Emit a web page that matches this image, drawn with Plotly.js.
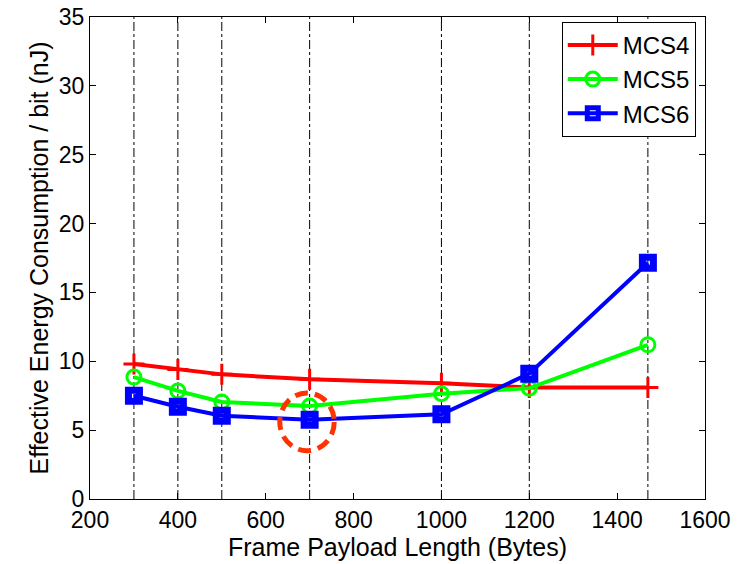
<!DOCTYPE html>
<html>
<head>
<meta charset="utf-8">
<script src="https://cdn.plot.ly/plotly-3.0.1.min.js"></script>
<style>html,body{margin:0;padding:0;background:#fff;}#chart{width:748px;height:564px;}</style>
</head>
<body>
<div id="chart"></div>
<script>
const payload = [300, 400, 500, 700, 1000, 1200, 1470];
const mcs4 = [9.8, 9.4, 9.05, 8.7, 8.4, 8.1, 8.1];
const mcs5 = [8.85, 7.85, 7.05, 6.75, 7.65, 8.05, 11.2];
const mcs6 = [7.5, 6.7, 6.05, 5.75, 6.15, 9.1, 17.15];
const seriesNames = ['MCS4', 'MCS5', 'MCS6'];
const xTicks = [200, 400, 600, 800, 1000, 1200, 1400, 1600];
const yTicks = [0, 5, 10, 15, 20, 25, 30, 35];
const highlight = {x0: 632, x1: 756, y0: 3.5, y1: 7.7};

const font = 'Liberation Sans, Arial, Helvetica, sans-serif';

const traces = [
  {x: payload, y: mcs4, name: seriesNames[0], mode: 'lines+markers',
   line: {color: '#ff0000', width: 4},
   marker: {symbol: 'cross-thin', size: 15, color: '#ff0000', line: {color: '#ff0000', width: 3}}},
  {x: payload, y: mcs5, name: seriesNames[1], mode: 'lines+markers',
   line: {color: '#00ff00', width: 4},
   marker: {symbol: 'circle-open', size: 14, color: '#00ff00', line: {color: '#00ff00', width: 3}}},
  {x: payload, y: mcs6, name: seriesNames[2], mode: 'lines+markers',
   line: {color: '#0000ff', width: 4},
   marker: {symbol: 'square-open', size: 11, color: '#0000ff', line: {color: '#0000ff', width: 7}}}
];

const shapes = payload.map(v => ({
  type: 'line', xref: 'x', yref: 'y', x0: v, x1: v, y0: 0, y1: 35,
  line: {color: '#000', width: 1, dash: 'dashdot'}, layer: 'below'
}));
shapes.push({type: 'circle', xref: 'x', yref: 'y',
  x0: highlight.x0, x1: highlight.x1, y0: highlight.y0, y1: highlight.y1,
  line: {color: '#ff3300', width: 5, dash: '13px,7px'}, layer: 'above'});

const axisCommon = {
  showline: true, linecolor: '#000', linewidth: 1, mirror: 'ticks',
  ticks: 'inside', ticklen: 6, tickcolor: '#000', showgrid: false, zeroline: false,
  tickfont: {family: font, size: 23, color: '#000'}
};

const layout = {
  width: 748, height: 564,
  margin: {l: 90, r: 43, t: 17, b: 65},
  paper_bgcolor: '#fff', plot_bgcolor: '#fff',
  xaxis: Object.assign({}, axisCommon, {
    range: [200, 1600], tickvals: xTicks, ticktext: xTicks.map(String),
    title: {text: 'Frame Payload Length (Bytes)', font: {family: font, size: 25, color: '#000'}, standoff: 2}
  }),
  yaxis: Object.assign({}, axisCommon, {
    range: [0, 35], tickvals: yTicks, ticktext: yTicks.map(String),
    title: {text: 'Effective Energy Consumption / bit (nJ)', font: {family: font, size: 25, color: '#000'}, standoff: 3}
  }),
  showlegend: true,
  legend: {x: 0.985, y: 0.99, xanchor: 'right', yanchor: 'top',
    bgcolor: '#fff', bordercolor: '#000', borderwidth: 1,
    font: {family: font, size: 24, color: '#000'}, tracegroupgap: 0, itemwidth: 50},
  shapes: shapes
};

Plotly.newPlot('chart', traces, layout, {displayModeBar: false, staticPlot: true});
</script>
</body>
</html>
